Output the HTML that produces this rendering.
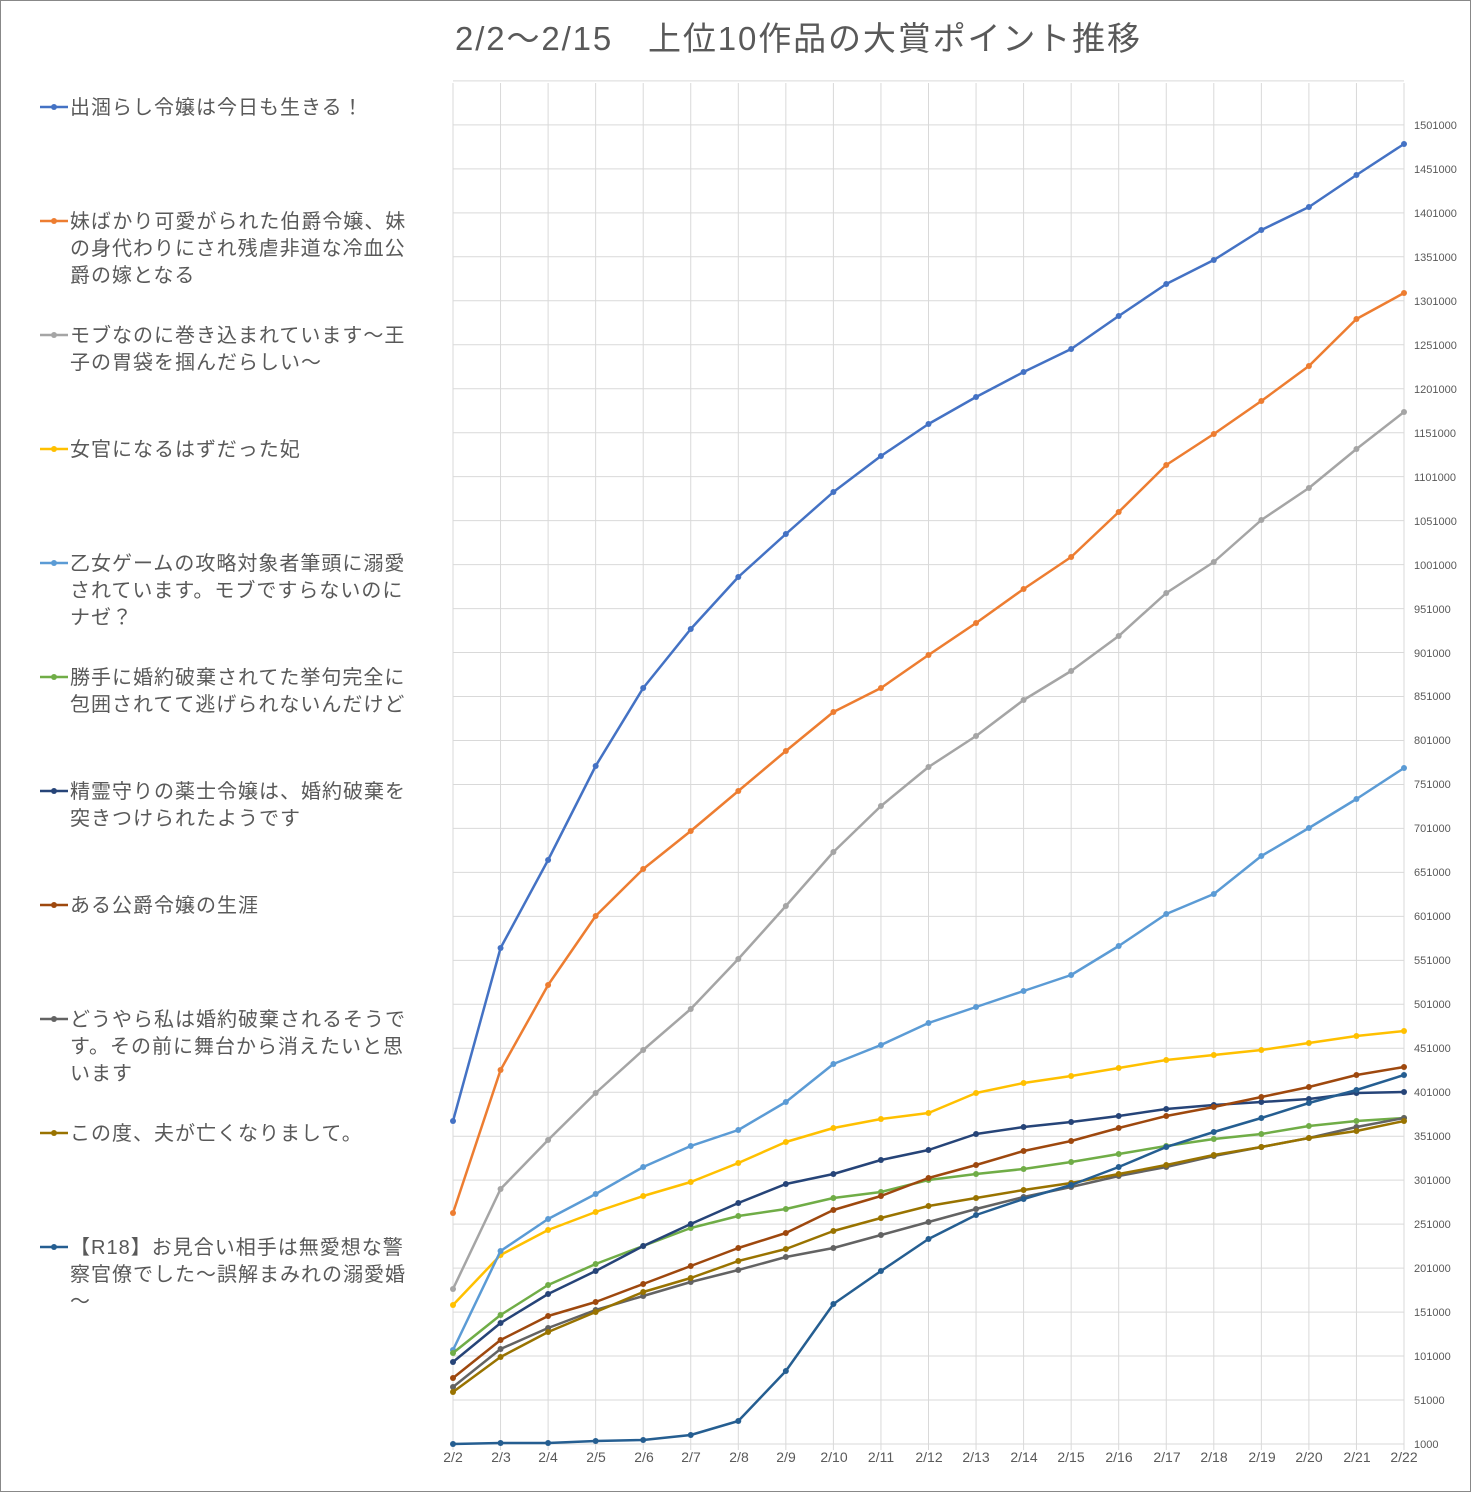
<!DOCTYPE html>
<html><head><meta charset="utf-8"><style>
body{margin:0;background:#fff}
svg{display:block}
text{font-family:"Liberation Sans","Noto Sans CJK JP",sans-serif;fill:#595959}
.yl{font-size:11px}
.xl{font-size:14px;text-anchor:middle}
.lg{font-size:20px;letter-spacing:1px}
</style></head><body>
<svg id="s" width="1471" height="1493" xmlns="http://www.w3.org/2000/svg">
<rect x="0.5" y="0.5" width="1470" height="1491" fill="#fff" stroke="#888"/>
<g id="grid"></g>
<text x="455" y="50" font-size="33" textLength="685" lengthAdjust="spacing">2/2～2/15　上位10作品の大賞ポイント推移</text>
<g class="yl">
<text x="1414" y="129">1501000</text><text x="1414" y="173">1451000</text><text x="1414" y="217">1401000</text><text x="1414" y="261">1351000</text><text x="1414" y="305">1301000</text><text x="1414" y="349">1251000</text><text x="1414" y="393">1201000</text><text x="1414" y="437">1151000</text><text x="1414" y="481">1101000</text><text x="1414" y="525">1051000</text><text x="1414" y="569">1001000</text><text x="1414" y="613">951000</text><text x="1414" y="657">901000</text><text x="1414" y="700">851000</text><text x="1414" y="744">801000</text><text x="1414" y="788">751000</text><text x="1414" y="832">701000</text><text x="1414" y="876">651000</text><text x="1414" y="920">601000</text><text x="1414" y="964">551000</text><text x="1414" y="1008">501000</text><text x="1414" y="1052">451000</text><text x="1414" y="1096">401000</text><text x="1414" y="1140">351000</text><text x="1414" y="1184">301000</text><text x="1414" y="1228">251000</text><text x="1414" y="1272">201000</text><text x="1414" y="1316">151000</text><text x="1414" y="1360">101000</text><text x="1414" y="1404">51000</text><text x="1414" y="1448">1000</text>
</g>
<g class="xl">
<text x="453" y="1462">2/2</text><text x="501" y="1462">2/3</text><text x="548" y="1462">2/4</text><text x="596" y="1462">2/5</text><text x="644" y="1462">2/6</text><text x="691" y="1462">2/7</text><text x="739" y="1462">2/8</text><text x="786" y="1462">2/9</text><text x="834" y="1462">2/10</text><text x="881" y="1462">2/11</text><text x="929" y="1462">2/12</text><text x="976" y="1462">2/13</text><text x="1024" y="1462">2/14</text><text x="1071" y="1462">2/15</text><text x="1119" y="1462">2/16</text><text x="1167" y="1462">2/17</text><text x="1214" y="1462">2/18</text><text x="1262" y="1462">2/19</text><text x="1309" y="1462">2/20</text><text x="1357" y="1462">2/21</text><text x="1404" y="1462">2/22</text>
</g>
<g id="series"></g>
<g id="leg"></g>
<g class="lg">
<text x="70" y="114">出涸らし令嬢は今日も生きる！</text>
<text x="70" y="228">妹ばかり可愛がられた伯爵令嬢、妹</text><text x="70" y="255">の身代わりにされ残虐非道な冷血公</text><text x="70" y="282">爵の嫁となる</text>
<text x="70" y="342">モブなのに巻き込まれています～王</text><text x="70" y="369">子の胃袋を掴んだらしい～</text>
<text x="70" y="456">女官になるはずだった妃</text>
<text x="70" y="570">乙女ゲームの攻略対象者筆頭に溺愛</text><text x="70" y="597">されています。モブですらないのに</text><text x="70" y="624">ナゼ？</text>
<text x="70" y="684">勝手に婚約破棄されてた挙句完全に</text><text x="70" y="711">包囲されてて逃げられないんだけど</text>
<text x="70" y="798">精霊守りの薬士令嬢は、婚約破棄を</text><text x="70" y="825">突きつけられたようです</text>
<text x="70" y="912">ある公爵令嬢の生涯</text>
<text x="70" y="1026">どうやら私は婚約破棄されるそうで</text><text x="70" y="1053">す。その前に舞台から消えたいと思</text><text x="70" y="1080">います</text>
<text x="70" y="1140">この度、夫が亡くなりまして。</text>
<text x="70" y="1254">【R18】お見合い相手は無愛想な警</text><text x="70" y="1281">察官僚でした～誤解まみれの溺愛婚</text><text x="70" y="1308">～</text>
</g>
</svg>
<script>
var NS="http://www.w3.org/2000/svg";
function el(p,t,a){var e=document.createElementNS(NS,t);for(var k in a)e.setAttribute(k,a[k]);p.appendChild(e);return e;}
var g=document.getElementById('grid');
for(var i=0;i<=20;i++){var x=453+i*47.55;el(g,'line',{x1:x,x2:x,y1:83,y2:1450,stroke:'#d9d9d9','stroke-width':1});}
for(var j=0;j<=31;j++){var y=1444-j*43.97;el(g,'line',{x1:453,x2:1404,y1:y,y2:y,stroke:'#d9d9d9','stroke-width':1});}
var S=[
['#4472C4',[1121,948,860,766,688,629,577,534,492,456,424,397,372,349,316,284,260,230,207,175,144]],
['#ED7D31',[1213,1070,985,916,869,831,791,751,712,688,655,623,589,557,512,465,434,401,366,319,293]],
['#A5A5A5',[1289,1189,1140,1093,1050,1009,959,906,852,806,767,736,700,671,636,593,562,520,488,449,412]],
['#FFC000',[1305,1255,1230,1212,1196,1182,1163,1142,1128,1119,1113,1093,1083,1076,1068,1060,1055,1050,1043,1036,1031]],
['#5B9BD5',[1350,1251,1219,1194,1167,1146,1130,1102,1064,1045,1023,1007,991,975,946,914,894,856,828,799,768]],
['#70AD47',[1353,1315,1285,1264,1246,1228,1216,1209,1198,1192,1180,1174,1169,1162,1154,1146,1139,1134,1126,1121,1118]],
['#264478',[1362,1323,1294,1271,1246,1224,1203,1184,1174,1160,1150,1134,1127,1122,1116,1109,1105,1102,1099,1093,1092]],
['#9E480E',[1378,1340,1316,1302,1284,1266,1248,1233,1210,1196,1178,1165,1151,1141,1128,1116,1107,1097,1087,1075,1067]],
['#636363',[1387,1349,1328,1310,1296,1282,1270,1257,1248,1235,1222,1209,1197,1187,1176,1167,1156,1147,1138,1127,1118]],
['#997300',[1392,1357,1332,1312,1292,1278,1261,1249,1231,1218,1206,1198,1190,1183,1174,1165,1155,1147,1138,1131,1121]],
['#255E91',[1444,1443,1443,1441,1440,1435,1421,1371,1304,1271,1239,1215,1199,1185,1167,1147,1132,1118,1103,1090,1075]]];
var sg=document.getElementById('series'),lg=document.getElementById('leg');
S.forEach(function(s,k){
 var pts=s[1].map(function(y,i){return (453+i*47.55)+','+y;}).join(' ');
 el(sg,'polyline',{points:pts,fill:'none',stroke:s[0],'stroke-width':2.5,'stroke-linejoin':'round'});
 s[1].forEach(function(y,i){el(sg,'circle',{cx:453+i*47.55,cy:y,r:3,fill:s[0]});});
 var ly=107+k*114;
 el(lg,'line',{x1:40,x2:68,y1:ly,y2:ly,stroke:s[0],'stroke-width':2.5});
 el(lg,'circle',{cx:54,cy:ly,r:3,fill:s[0]});
});
</script>
</body></html>
